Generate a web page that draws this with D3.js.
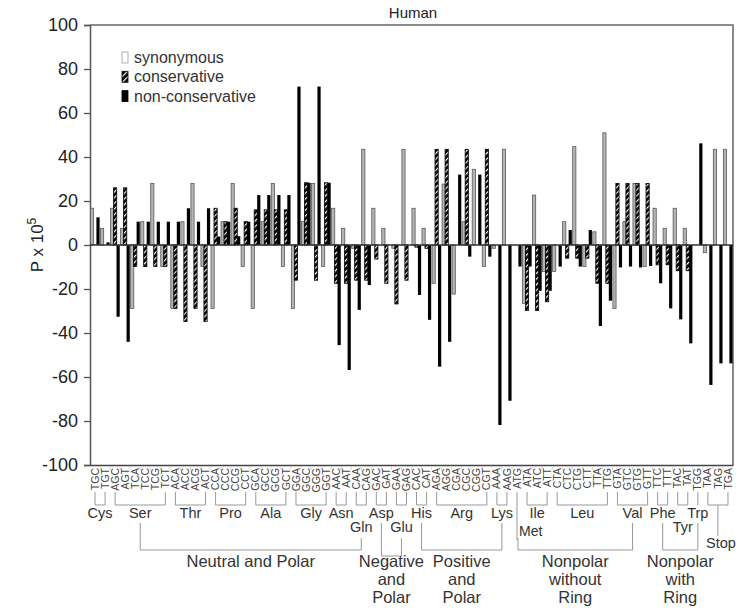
<!DOCTYPE html>
<html><head><meta charset="utf-8">
<script src="https://cdn.jsdelivr.net/npm/d3@7"></script>
<style>
body{margin:0;background:#fff;}
svg{display:block;font-family:"Liberation Sans",Arial,Helvetica,sans-serif;}
</style></head>
<body><svg id="c" width="738" height="616"></svg>
<script>
const codons = ["TGC","TGT","AGC","AGT","TCA","TCC","TCG","TCT","ACA","ACC","ACG","ACT","CCA","CCC","CCG","CCT","GCA","GCC","GCG","GCT","GGA","GGC","GGG","GGT","AAC","AAT","CAA","CAG","GAC","GAT","GAA","GAG","CAC","CAT","AGA","AGG","CGA","CGC","CGG","CGT","AAA","AAG","ATG","ATA","ATC","ATT","CTA","CTC","CTG","CTT","TTA","TTG","GTA","GTC","GTG","GTT","TTC","TTT","TAC","TAT","TGG","TAA","TAG","TGA"];
const synonymous = [16.7,7.6,16.7,7.6,-28.8,10.6,28,-9.8, -28.8,10.6,28,-9.8, -28.8,10.6,28,-9.8, -28.8,10.6,28,-9.8, -28.8,10.6,28,-9.8, 16.7,7.6,-1.5,43.5,16.7,7.6,-1.5,43.5, 16.7,7.6,-17.4,27.7,-22.3,10.6,34.4,-9.8, -1.5,43.5,0,-26.5,22.7,-12,-12,10.6,44.7,-9.8,6,51, -28.8,10.6,28,-9.8,16.7,7.6,16.7,7.6,0,-3.5,43.5,43.5];
const conservative = [0,0,26,26,-9.8,-9.8,-9.8,-9.8, -28.8,-34.8,-28.8,-34.8, 16.7,10.6,16.7,10.6, 16,16,16,16, -16,28.3,-16,28.3, -17.4,-17.4,-16,-16,-6.4,-17.4,-26.8,-16, -1,-1.5,43.5,43.5,0,43.5,0,43.5, 0,0,0,-29.8,-29.8,-25.8,0,-6,-6,-6,-17.4,-17.4, 28,28,28,28,-9,-9,-11.7,-11.7,0,0,0,0];
const nonConservative = [12.6,1.2,-32.6,-44,10.6,10.6,10.6,10.6, 10.6,16.7,10.6,16.7, 3.8,10.6,4,10.6, 22.7,22.7,22.7,22.7, 72,28.3,72,28.3, -45.5,-56.8,-29.5,-18.2,0,0,0,0, -22.7,-34,-55.3,-44,32,-5.3,32,-5.3, -81.8,-70.8,-9.8,-9.8,-20.8,-20.8,-9.8,6.8,-9.8,6.8,-36.8,-25.3, -10.2,-9.8,-10.2,-9.5,-17.4,-28.8,-33.8,-44.7,46.2,-63.6,-53.8,-53.8];
const yTicks = [100,80,60,40,20,0,-20,-40,-60,-80,-100];
const aminoAcids = ["Cys","Ser","Thr","Pro","Ala","Gly","Asn","Gln","Asp","Glu","His","Arg","Lys","Met","Ile","Leu","Val","Phe","Tyr","Trp","Stop"];
const aaCodonCounts = [2,6,4,4,4,4,2,2,2,2,2,6,2,1,3,6,4,2,2,1,3];
const aaLabelRow = [1,1,1,1,1,1,1,2,1,2,1,1,1,2,1,1,1,1,2,1,3];
const groupNames = [["Neutral and Polar"],["Negative","and","Polar"],["Positive","and","Polar"],["Nonpolar","without","Ring"],["Nonpolar","with","Ring"]];
const groupFrom = ["Ser","Asp","His","Met","Phe"];
const groupTo = ["Gln","Glu","Lys","Val","Trp"];
const seriesNames = ["synonymous","conservative","non-conservative"];

const svg = d3.select("#c");
const L=90, R=733, T=25, B=465;
const x = d3.scaleBand().domain(codons).range([L,R]).padding(0);
const y = d3.scaleLinear().domain([-100,100]).range([B,T]);
const bw = x.bandwidth();
const cx = c => x(c) + bw/2;

// hatch pattern
const defs = svg.append("defs");
const pat = defs.append("pattern").attr("id","hatch").attr("patternUnits","userSpaceOnUse")
  .attr("width",4).attr("height",4).attr("patternTransform","rotate(45)");
pat.append("rect").attr("width",4).attr("height",4).attr("fill","#000");
pat.append("rect").attr("x",0).attr("width",1.2).attr("height",4).attr("fill","#fff");

// title
svg.append("text").attr("x",413).attr("y",18).attr("text-anchor","middle")
  .attr("font-size",15).attr("fill","#222").text("Human");

// frame
svg.append("path").attr("d",`M${L},${T}H${R}V${B}`).attr("fill","none").attr("stroke","#666").attr("stroke-width",1.5);

// y axis
const yAxis = d3.axisLeft(y).tickValues(yTicks).tickSize(6).tickPadding(6).tickFormat(d=>String(d));
const ga = svg.append("g").attr("transform",`translate(${L},0)`).call(yAxis);
ga.select(".domain").attr("stroke","#555").attr("stroke-width",1.5);
ga.selectAll(".tick line").attr("stroke","#555").attr("stroke-width",1.3);
ga.selectAll(".tick text").attr("font-size",18).attr("fill","#222")
  .attr("font-family","'Liberation Sans',Arial,sans-serif");

// x axis line at bottom
const xAxis = d3.axisBottom(x).tickSize(0).tickFormat("");
const gx = svg.append("g").attr("transform",`translate(0,${B})`).call(xAxis);
gx.select(".domain").attr("stroke","#444").attr("stroke-width",1.5);
// small separators
svg.append("g").selectAll("line").data(codons.slice(1)).join("line")
  .attr("x1",d=>x(d)).attr("x2",d=>x(d)).attr("y1",B+1).attr("y2",B+5)
  .attr("stroke","#ccc").attr("stroke-width",0.8);

// codon labels
svg.append("g").selectAll("text").data(codons).join("text")
  .attr("transform",d=>`translate(${cx(d)+3.6},${B+3}) rotate(-90)`)
  .attr("text-anchor","end").attr("font-size",10.5).attr("fill","#444").text(d=>d);

// y label
const yl = svg.append("text").attr("transform","translate(43,245) rotate(-90)")
  .attr("text-anchor","middle").attr("font-size",17).attr("fill","#222");
yl.append("tspan").text("P x 10");
yl.append("tspan").attr("dy",-7).attr("font-size",12).text("5");

// bars
const series = [
  {vals: synonymous, off:-4.6, fill:"#b4b4b4", stroke:"#5a5a5a"},
  {vals: conservative, off:-1.6, fill:"url(#hatch)", stroke:"#000"},
  {vals: nonConservative, off:1.4, fill:"#000", stroke:"none"}
];
const bar = 3.2;
series.forEach(s=>{
  svg.append("g").selectAll("rect").data(codons.map((c,i)=>({c,v:s.vals[i]})).filter(d=>d.v!==0)).join("rect")
    .attr("x",d=>cx(d.c)+s.off).attr("width",bar)
    .attr("y",d=>y(Math.max(0,d.v))).attr("height",d=>Math.abs(y(d.v)-y(0)))
    .attr("fill",s.fill).attr("stroke",s.stroke).attr("stroke-width",s.stroke==="none"?0:0.8);
});

// zero line
svg.append("line").attr("x1",L).attr("x2",R).attr("y1",y(0)).attr("y2",y(0)).attr("stroke","#333").attr("stroke-width",1.5);

// legend
const lg = svg.append("g");
const lfill = ["#fff","url(#hatch)","#000"], lstroke=["#999","#000","#000"];
seriesNames.forEach((n,i)=>{
  lg.append("rect").attr("x",122).attr("y",52+i*19.3).attr("width",6).attr("height",11)
    .attr("fill",lfill[i]).attr("stroke",lstroke[i]).attr("stroke-width",0.8);
  lg.append("text").attr("x",134).attr("y",63+i*19.3).attr("font-size",16).attr("fill","#333").text(n);
});

// amino acid brackets
const gb = svg.append("g").attr("stroke","#999").attr("stroke-width",1).attr("fill","none");
const aaInfo = {};
let idx=0;
const rowY = {1:518, 2:532, 3:548};
aminoAcids.forEach((a,k)=>{
  const first = codons[idx], last = codons[idx+aaCodonCounts[k]-1];
  idx += aaCodonCounts[k];
  const x1 = cx(first), x2 = cx(last);
  const mid = (x1+x2)/2;
  if (aaCodonCounts[k]>1) gb.append("path").attr("d",`M${x1},492V505H${x2}V492`);
  else if (a==="Met") gb.append("path").attr("d",`M${x1},492V540`);
  else gb.append("path").attr("d",`M${x1},492V505`);
  if (a==="Stop") gb.append("path").attr("d",`M${mid},505V536`);
  let lx = mid, anchor="middle", ly = rowY[aaLabelRow[k]];
  if (a==="Met") {lx = x1+2; anchor="start"; ly = 536;}
  if (a==="Stop") lx = mid+3;
  aaInfo[a] = {x: a==="Met"? x1+1 : lx, row: aaLabelRow[k]};
  svg.append("text").attr("x",lx).attr("y",ly).attr("text-anchor",anchor)
    .attr("font-size",a==="Met"?14:14.5).attr("fill","#333").text(a);
});

// group brackets
groupNames.forEach((lines,g)=>{
  const a = aaInfo[groupFrom[g]], b = aaInfo[groupTo[g]];
  const hy = g===1 ? 556 : 550;
  const ya = a.row===1 ? 523 : 538, yb = b.row===1 ? 523 : 538;
  gb.append("path").attr("d",`M${a.x},${ya}V${hy}H${b.x}V${yb}`);
  const mx = (a.x+b.x)/2;
  lines.forEach((t,j)=>{
    svg.append("text").attr("x",mx).attr("y",567+j*18).attr("text-anchor","middle")
      .attr("font-size",16.5).attr("fill","#333").text(t);
  });
});
</script></body></html>
